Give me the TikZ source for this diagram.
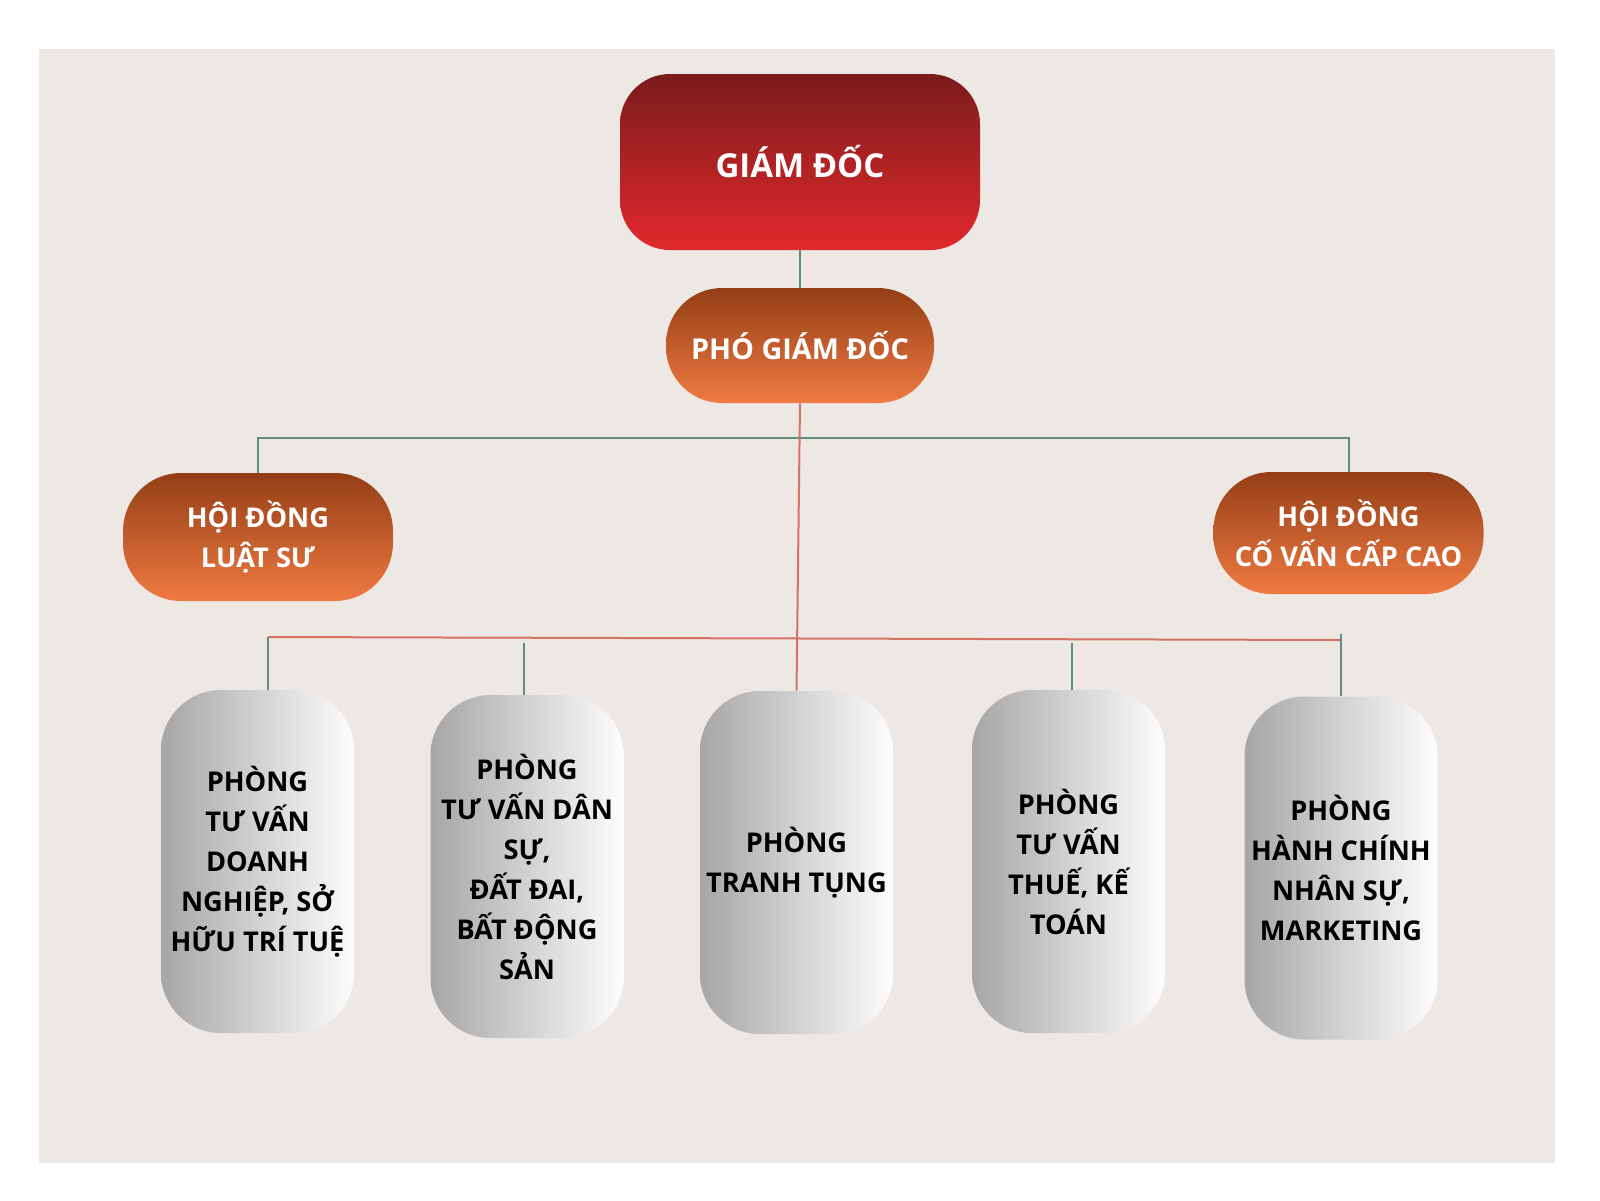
\documentclass[tikz,border=0pt]{standalone}
\usepackage{fontspec}
\setmainfont{Open Sans}
\definecolor{bgc}{HTML}{EDE8E4}
\definecolor{gdtop}{RGB}{122,27,27}
\definecolor{gdbot}{RGB}{226,41,44}
\definecolor{ortop}{RGB}{148,62,22}
\definecolor{orbot}{RGB}{240,122,66}
\definecolor{grl}{RGB}{166,166,166}
\definecolor{grr}{RGB}{253,253,253}
\definecolor{gline}{RGB}{94,142,128}
\definecolor{rline}{RGB}{210,116,98}
\tikzset{
  gdbox/.style={rounded corners=25pt, top color=gdtop, bottom color=gdbot, draw=none,
    minimum width=180pt, minimum height=88pt, inner sep=0pt, text=white,
    font=\bfseries\fontsize{16.5}{20}\selectfont},
  pgdbox/.style={rounded corners=28pt, top color=ortop, bottom color=orbot, draw=none,
    minimum width=134pt, minimum height=57.5pt, inner sep=0pt, text=white,
    font=\bfseries\fontsize{14.4}{18}\selectfont},
  hdbox/.style={rounded corners=29pt, top color=ortop, bottom color=orbot, draw=none,
    minimum width=135pt, inner sep=0pt, text=white, align=center,
    font=\bfseries\fontsize{13.6}{20}\selectfont},
  deptbox/.style={rounded corners=30pt, left color=grl, right color=grr, draw=none,
    minimum width=96.5pt, minimum height=171.5pt, inner sep=0pt, text=black, align=center,
    font=\bfseries\fontsize{13.6}{20}\selectfont},
  gconn/.style={draw=gline, line width=1pt},
  rconn/.style={draw=rline, line width=1pt}
}
\begin{document}
\begin{tikzpicture}[x=0.5pt,y=-0.5pt]
\useasboundingbox (0,0) rectangle (1600,1200);
\fill[white] (0,0) rectangle (1600,1200);
\fill[bgc] (39,49) rectangle (1555,1163);

\node[gdbox] (gd) at (800,162) {GIÁM ĐỐC};
\node[pgdbox] (pgd) at (800,345.5) {PHÓ GIÁM ĐỐC};
\node[hdbox, minimum height=64pt] (hdls) at (258,537) {HỘI ĐỒNG\\LUẬT SƯ};
\node[hdbox, minimum height=61pt] (hdcv) at (1348.5,533) {HỘI ĐỒNG\\CỐ VẤN CẤP CAO};

\node[deptbox] (b1) at (257.5,861.5) {PHÒNG\\TƯ VẤN\\DOANH\\NGHIỆP, SỞ\\HỮU TRÍ TUỆ};
\node[deptbox] (b2) at (527,866.5) {PHÒNG\\TƯ VẤN DÂN\\SỰ,\\ĐẤT ĐAI,\\BẤT ĐỘNG\\SẢN};
\node[deptbox] (b3) at (796.5,862.5) {PHÒNG\\TRANH TỤNG};
\node[deptbox] (b4) at (1068.5,861.5) {PHÒNG\\TƯ VẤN\\THUẾ, KẾ\\TOÁN};
\node[deptbox] (b5) at (1341,868) {PHÒNG\\HÀNH CHÍNH\\NHÂN SỰ,\\MARKETING};

\coordinate (gbar) at (800,438);
\coordinate (rL) at (268,637);
\coordinate (rR) at (1341,640);
\coordinate (t2) at (524,643);
\coordinate (t4) at (1072,643);
\coordinate (t5) at (1341,634);

\draw[gconn] (gd.south) -- (pgd.north);
\draw[gconn] (hdls.north) |- (gbar) -| (hdcv.north);
\draw[rconn] (rL) -- (rR);
\draw[rconn] (pgd.south) -- (b3.north);
\draw[gconn] (rL) -- (rL |- b1.north);
\draw[gconn] (t2) -- (t2 |- b2.north);
\draw[gconn] (t4) -- (t4 |- b4.north);
\draw[gconn] (t5) -- (t5 |- b5.north);
\end{tikzpicture}
\end{document}
